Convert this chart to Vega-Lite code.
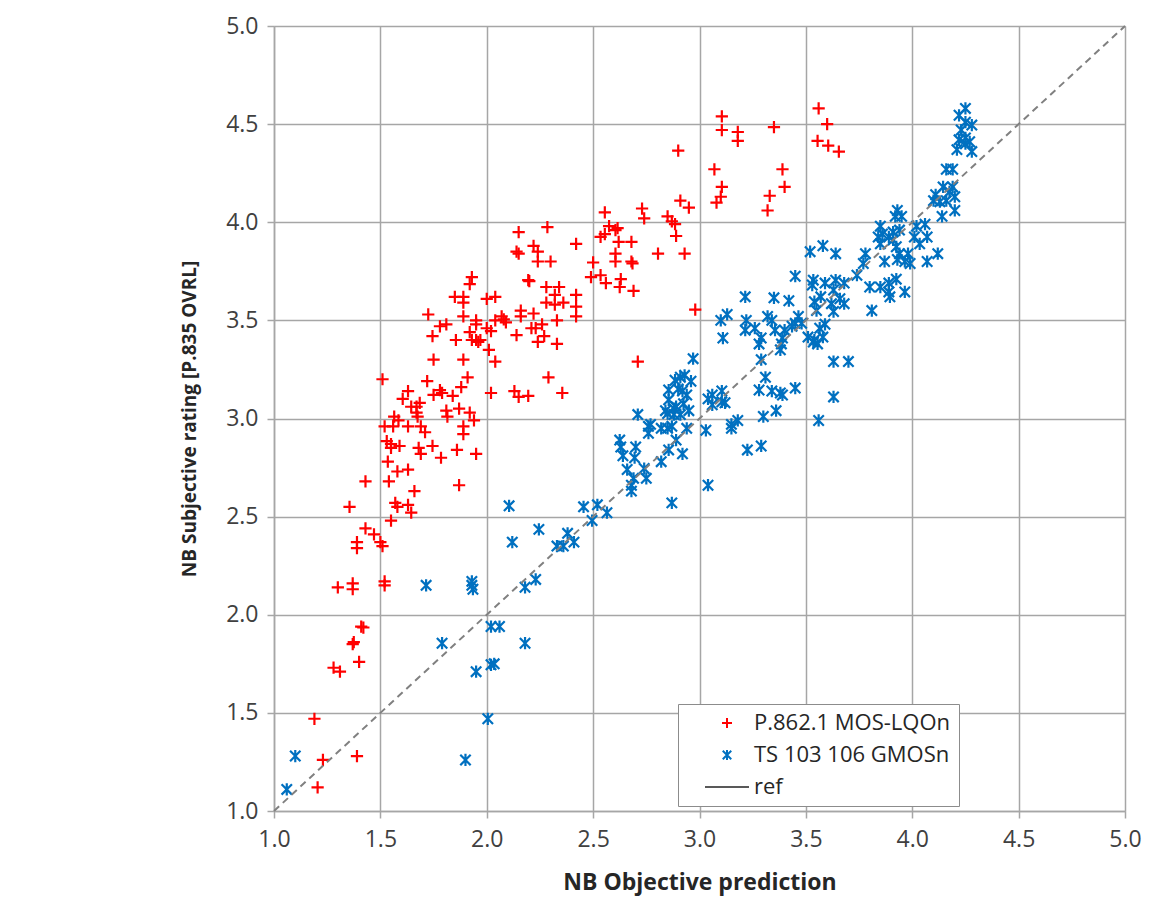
{
  "$schema": "https://vega.github.io/schema/vega-lite/v6.json",
  "width": 851,
  "height": 785,
  "autosize": "none",
  "padding": {"left": 274, "top": 26, "right": 27, "bottom": 102},
  "background": "white",
  "config": {"view": {"stroke": null}, "font": "Open Sans"},
  "datasets": {
    "ref": [{"x": 1, "y": 1}, {"x": 5, "y": 5}],
    "pts": [
      {"s":"P.862.1 MOS-LQOn","x":1.19,"y":1.47},{"s":"P.862.1 MOS-LQOn","x":1.205,"y":1.12},{"s":"P.862.1 MOS-LQOn","x":1.23,"y":1.26},{"s":"P.862.1 MOS-LQOn","x":1.39,"y":1.28},
      {"s":"P.862.1 MOS-LQOn","x":1.28,"y":1.73},{"s":"P.862.1 MOS-LQOn","x":1.31,"y":1.71},{"s":"P.862.1 MOS-LQOn","x":1.40,"y":1.76},{"s":"P.862.1 MOS-LQOn","x":1.37,"y":1.85},
      {"s":"P.862.1 MOS-LQOn","x":1.375,"y":1.86},{"s":"P.862.1 MOS-LQOn","x":1.41,"y":1.94},{"s":"P.862.1 MOS-LQOn","x":1.42,"y":1.935},{"s":"P.862.1 MOS-LQOn","x":1.30,"y":2.14},
      {"s":"P.862.1 MOS-LQOn","x":1.37,"y":2.16},{"s":"P.862.1 MOS-LQOn","x":1.37,"y":2.13},{"s":"P.862.1 MOS-LQOn","x":1.52,"y":2.17},{"s":"P.862.1 MOS-LQOn","x":1.52,"y":2.15},
      {"s":"P.862.1 MOS-LQOn","x":1.39,"y":2.37},{"s":"P.862.1 MOS-LQOn","x":1.39,"y":2.34},{"s":"P.862.1 MOS-LQOn","x":1.43,"y":2.44},{"s":"P.862.1 MOS-LQOn","x":1.47,"y":2.41},
      {"s":"P.862.1 MOS-LQOn","x":1.50,"y":2.37},{"s":"P.862.1 MOS-LQOn","x":1.51,"y":2.35},{"s":"P.862.1 MOS-LQOn","x":1.355,"y":2.55},{"s":"P.862.1 MOS-LQOn","x":1.55,"y":2.48},
      {"s":"P.862.1 MOS-LQOn","x":1.57,"y":2.57},{"s":"P.862.1 MOS-LQOn","x":1.58,"y":2.55},{"s":"P.862.1 MOS-LQOn","x":1.63,"y":2.56},{"s":"P.862.1 MOS-LQOn","x":1.645,"y":2.52},
      {"s":"P.862.1 MOS-LQOn","x":1.66,"y":2.63},{"s":"P.862.1 MOS-LQOn","x":1.43,"y":2.68},{"s":"P.862.1 MOS-LQOn","x":1.54,"y":2.68},{"s":"P.862.1 MOS-LQOn","x":1.87,"y":2.66},
      {"s":"P.862.1 MOS-LQOn","x":1.535,"y":2.78},{"s":"P.862.1 MOS-LQOn","x":1.58,"y":2.73},{"s":"P.862.1 MOS-LQOn","x":1.63,"y":2.74},{"s":"P.862.1 MOS-LQOn","x":1.53,"y":2.885},
      {"s":"P.862.1 MOS-LQOn","x":1.55,"y":2.87},{"s":"P.862.1 MOS-LQOn","x":1.55,"y":2.85},{"s":"P.862.1 MOS-LQOn","x":1.59,"y":2.86},{"s":"P.862.1 MOS-LQOn","x":1.68,"y":2.85},
      {"s":"P.862.1 MOS-LQOn","x":1.69,"y":2.82},{"s":"P.862.1 MOS-LQOn","x":1.745,"y":2.86},{"s":"P.862.1 MOS-LQOn","x":1.785,"y":2.80},{"s":"P.862.1 MOS-LQOn","x":1.86,"y":2.84},
      {"s":"P.862.1 MOS-LQOn","x":1.95,"y":2.82},{"s":"P.862.1 MOS-LQOn","x":1.52,"y":2.96},{"s":"P.862.1 MOS-LQOn","x":1.56,"y":2.96},{"s":"P.862.1 MOS-LQOn","x":1.63,"y":2.96},
      {"s":"P.862.1 MOS-LQOn","x":1.69,"y":2.96},{"s":"P.862.1 MOS-LQOn","x":1.71,"y":2.93},{"s":"P.862.1 MOS-LQOn","x":1.89,"y":2.96},{"s":"P.862.1 MOS-LQOn","x":1.89,"y":2.92},
      {"s":"P.862.1 MOS-LQOn","x":1.565,"y":3.01},{"s":"P.862.1 MOS-LQOn","x":1.585,"y":2.99},{"s":"P.862.1 MOS-LQOn","x":1.81,"y":3.04},{"s":"P.862.1 MOS-LQOn","x":1.815,"y":3.01},
      {"s":"P.862.1 MOS-LQOn","x":1.87,"y":3.05},{"s":"P.862.1 MOS-LQOn","x":1.92,"y":3.03},{"s":"P.862.1 MOS-LQOn","x":1.94,"y":2.99},{"s":"P.862.1 MOS-LQOn","x":1.63,"y":3.14},
      {"s":"P.862.1 MOS-LQOn","x":1.605,"y":3.10},{"s":"P.862.1 MOS-LQOn","x":1.645,"y":3.06},{"s":"P.862.1 MOS-LQOn","x":1.67,"y":3.06},{"s":"P.862.1 MOS-LQOn","x":1.685,"y":3.08},
      {"s":"P.862.1 MOS-LQOn","x":1.67,"y":3.03},{"s":"P.862.1 MOS-LQOn","x":1.675,"y":3.01},{"s":"P.862.1 MOS-LQOn","x":1.75,"y":3.12},{"s":"P.862.1 MOS-LQOn","x":1.78,"y":3.145},
      {"s":"P.862.1 MOS-LQOn","x":1.79,"y":3.13},{"s":"P.862.1 MOS-LQOn","x":1.84,"y":3.115},{"s":"P.862.1 MOS-LQOn","x":1.88,"y":3.16},{"s":"P.862.1 MOS-LQOn","x":2.02,"y":3.13},
      {"s":"P.862.1 MOS-LQOn","x":2.13,"y":3.14},{"s":"P.862.1 MOS-LQOn","x":2.15,"y":3.11},{"s":"P.862.1 MOS-LQOn","x":2.195,"y":3.115},{"s":"P.862.1 MOS-LQOn","x":2.355,"y":3.13},
      {"s":"P.862.1 MOS-LQOn","x":1.51,"y":3.20},{"s":"P.862.1 MOS-LQOn","x":1.72,"y":3.19},{"s":"P.862.1 MOS-LQOn","x":1.91,"y":3.21},{"s":"P.862.1 MOS-LQOn","x":2.29,"y":3.21},
      {"s":"P.862.1 MOS-LQOn","x":1.75,"y":3.30},{"s":"P.862.1 MOS-LQOn","x":1.89,"y":3.30},{"s":"P.862.1 MOS-LQOn","x":2.04,"y":3.29},{"s":"P.862.1 MOS-LQOn","x":2.71,"y":3.29},
      {"s":"P.862.1 MOS-LQOn","x":1.855,"y":3.40},{"s":"P.862.1 MOS-LQOn","x":1.92,"y":3.44},{"s":"P.862.1 MOS-LQOn","x":1.93,"y":3.40},{"s":"P.862.1 MOS-LQOn","x":1.95,"y":3.40},
      {"s":"P.862.1 MOS-LQOn","x":1.96,"y":3.39},{"s":"P.862.1 MOS-LQOn","x":1.97,"y":3.40},{"s":"P.862.1 MOS-LQOn","x":2.00,"y":3.46},{"s":"P.862.1 MOS-LQOn","x":2.02,"y":3.445},
      {"s":"P.862.1 MOS-LQOn","x":2.01,"y":3.35},{"s":"P.862.1 MOS-LQOn","x":2.14,"y":3.425},{"s":"P.862.1 MOS-LQOn","x":2.24,"y":3.39},{"s":"P.862.1 MOS-LQOn","x":2.27,"y":3.42},
      {"s":"P.862.1 MOS-LQOn","x":2.33,"y":3.38},{"s":"P.862.1 MOS-LQOn","x":1.78,"y":3.47},{"s":"P.862.1 MOS-LQOn","x":1.81,"y":3.48},{"s":"P.862.1 MOS-LQOn","x":1.745,"y":3.42},
      {"s":"P.862.1 MOS-LQOn","x":1.725,"y":3.53},{"s":"P.862.1 MOS-LQOn","x":1.89,"y":3.52},{"s":"P.862.1 MOS-LQOn","x":1.95,"y":3.50},{"s":"P.862.1 MOS-LQOn","x":1.95,"y":3.48},
      {"s":"P.862.1 MOS-LQOn","x":2.04,"y":3.50},{"s":"P.862.1 MOS-LQOn","x":2.07,"y":3.52},{"s":"P.862.1 MOS-LQOn","x":2.08,"y":3.505},{"s":"P.862.1 MOS-LQOn","x":2.09,"y":3.49},
      {"s":"P.862.1 MOS-LQOn","x":2.16,"y":3.55},{"s":"P.862.1 MOS-LQOn","x":2.16,"y":3.52},{"s":"P.862.1 MOS-LQOn","x":2.22,"y":3.535},{"s":"P.862.1 MOS-LQOn","x":2.33,"y":3.50},
      {"s":"P.862.1 MOS-LQOn","x":2.26,"y":3.48},{"s":"P.862.1 MOS-LQOn","x":2.23,"y":3.46},{"s":"P.862.1 MOS-LQOn","x":2.21,"y":3.46},{"s":"P.862.1 MOS-LQOn","x":2.98,"y":3.555},
      {"s":"P.862.1 MOS-LQOn","x":1.92,"y":3.685},{"s":"P.862.1 MOS-LQOn","x":1.93,"y":3.72},{"s":"P.862.1 MOS-LQOn","x":1.85,"y":3.62},{"s":"P.862.1 MOS-LQOn","x":1.89,"y":3.62},
      {"s":"P.862.1 MOS-LQOn","x":1.89,"y":3.59},{"s":"P.862.1 MOS-LQOn","x":2.00,"y":3.61},{"s":"P.862.1 MOS-LQOn","x":2.04,"y":3.62},{"s":"P.862.1 MOS-LQOn","x":2.20,"y":3.70},
      {"s":"P.862.1 MOS-LQOn","x":2.28,"y":3.67},{"s":"P.862.1 MOS-LQOn","x":2.34,"y":3.67},{"s":"P.862.1 MOS-LQOn","x":2.32,"y":3.63},{"s":"P.862.1 MOS-LQOn","x":2.28,"y":3.59},
      {"s":"P.862.1 MOS-LQOn","x":2.32,"y":3.58},{"s":"P.862.1 MOS-LQOn","x":2.36,"y":3.59},{"s":"P.862.1 MOS-LQOn","x":2.42,"y":3.63},{"s":"P.862.1 MOS-LQOn","x":2.42,"y":3.57},
      {"s":"P.862.1 MOS-LQOn","x":2.42,"y":3.52},{"s":"P.862.1 MOS-LQOn","x":2.195,"y":3.705},{"s":"P.862.1 MOS-LQOn","x":2.49,"y":3.72},{"s":"P.862.1 MOS-LQOn","x":2.535,"y":3.73},
      {"s":"P.862.1 MOS-LQOn","x":2.56,"y":3.69},{"s":"P.862.1 MOS-LQOn","x":2.63,"y":3.71},{"s":"P.862.1 MOS-LQOn","x":2.625,"y":3.67},{"s":"P.862.1 MOS-LQOn","x":2.69,"y":3.65},
      {"s":"P.862.1 MOS-LQOn","x":2.50,"y":3.795},{"s":"P.862.1 MOS-LQOn","x":2.605,"y":3.84},{"s":"P.862.1 MOS-LQOn","x":2.605,"y":3.80},{"s":"P.862.1 MOS-LQOn","x":2.68,"y":3.80},
      {"s":"P.862.1 MOS-LQOn","x":2.685,"y":3.79},{"s":"P.862.1 MOS-LQOn","x":2.62,"y":3.90},{"s":"P.862.1 MOS-LQOn","x":2.68,"y":3.90},{"s":"P.862.1 MOS-LQOn","x":2.575,"y":3.98},
      {"s":"P.862.1 MOS-LQOn","x":2.615,"y":3.97},{"s":"P.862.1 MOS-LQOn","x":2.605,"y":3.96},{"s":"P.862.1 MOS-LQOn","x":2.535,"y":3.925},{"s":"P.862.1 MOS-LQOn","x":2.555,"y":3.94},
      {"s":"P.862.1 MOS-LQOn","x":2.555,"y":4.05},{"s":"P.862.1 MOS-LQOn","x":2.73,"y":4.07},{"s":"P.862.1 MOS-LQOn","x":2.74,"y":4.02},{"s":"P.862.1 MOS-LQOn","x":2.85,"y":4.03},
      {"s":"P.862.1 MOS-LQOn","x":2.87,"y":4.005},{"s":"P.862.1 MOS-LQOn","x":2.885,"y":3.99},{"s":"P.862.1 MOS-LQOn","x":2.89,"y":3.93},{"s":"P.862.1 MOS-LQOn","x":2.93,"y":3.84},
      {"s":"P.862.1 MOS-LQOn","x":2.805,"y":3.84},{"s":"P.862.1 MOS-LQOn","x":2.285,"y":3.975},{"s":"P.862.1 MOS-LQOn","x":2.15,"y":3.95},{"s":"P.862.1 MOS-LQOn","x":2.42,"y":3.89},
      {"s":"P.862.1 MOS-LQOn","x":2.22,"y":3.88},{"s":"P.862.1 MOS-LQOn","x":2.24,"y":3.85},{"s":"P.862.1 MOS-LQOn","x":2.14,"y":3.85},{"s":"P.862.1 MOS-LQOn","x":2.15,"y":3.84},
      {"s":"P.862.1 MOS-LQOn","x":2.24,"y":3.80},{"s":"P.862.1 MOS-LQOn","x":2.30,"y":3.80},{"s":"P.862.1 MOS-LQOn","x":2.91,"y":4.11},{"s":"P.862.1 MOS-LQOn","x":2.95,"y":4.075},
      {"s":"P.862.1 MOS-LQOn","x":2.90,"y":4.365},{"s":"P.862.1 MOS-LQOn","x":3.07,"y":4.27},{"s":"P.862.1 MOS-LQOn","x":3.105,"y":4.18},{"s":"P.862.1 MOS-LQOn","x":3.10,"y":4.13},
      {"s":"P.862.1 MOS-LQOn","x":3.08,"y":4.10},{"s":"P.862.1 MOS-LQOn","x":3.105,"y":4.54},{"s":"P.862.1 MOS-LQOn","x":3.105,"y":4.47},{"s":"P.862.1 MOS-LQOn","x":3.18,"y":4.46},
      {"s":"P.862.1 MOS-LQOn","x":3.18,"y":4.415},{"s":"P.862.1 MOS-LQOn","x":3.35,"y":4.485},{"s":"P.862.1 MOS-LQOn","x":3.39,"y":4.27},{"s":"P.862.1 MOS-LQOn","x":3.40,"y":4.18},
      {"s":"P.862.1 MOS-LQOn","x":3.33,"y":4.135},{"s":"P.862.1 MOS-LQOn","x":3.32,"y":4.06},{"s":"P.862.1 MOS-LQOn","x":3.56,"y":4.58},{"s":"P.862.1 MOS-LQOn","x":3.60,"y":4.50},
      {"s":"P.862.1 MOS-LQOn","x":3.555,"y":4.415},{"s":"P.862.1 MOS-LQOn","x":3.605,"y":4.39},{"s":"P.862.1 MOS-LQOn","x":3.655,"y":4.36},

      {"s":"TS 103 106 GMOSn","x":1.06,"y":1.11},{"s":"TS 103 106 GMOSn","x":1.10,"y":1.28},{"s":"TS 103 106 GMOSn","x":1.90,"y":1.26},{"s":"TS 103 106 GMOSn","x":2.005,"y":1.47},
      {"s":"TS 103 106 GMOSn","x":1.95,"y":1.71},{"s":"TS 103 106 GMOSn","x":2.02,"y":1.745},{"s":"TS 103 106 GMOSn","x":2.035,"y":1.75},{"s":"TS 103 106 GMOSn","x":1.79,"y":1.855},
      {"s":"TS 103 106 GMOSn","x":2.18,"y":1.855},{"s":"TS 103 106 GMOSn","x":2.02,"y":1.94},{"s":"TS 103 106 GMOSn","x":2.06,"y":1.94},{"s":"TS 103 106 GMOSn","x":1.715,"y":2.15},
      {"s":"TS 103 106 GMOSn","x":1.93,"y":2.17},{"s":"TS 103 106 GMOSn","x":1.93,"y":2.15},{"s":"TS 103 106 GMOSn","x":1.935,"y":2.13},{"s":"TS 103 106 GMOSn","x":2.18,"y":2.14},
      {"s":"TS 103 106 GMOSn","x":2.23,"y":2.18},{"s":"TS 103 106 GMOSn","x":2.12,"y":2.37},{"s":"TS 103 106 GMOSn","x":2.105,"y":2.555},{"s":"TS 103 106 GMOSn","x":2.245,"y":2.435},
      {"s":"TS 103 106 GMOSn","x":2.33,"y":2.35},{"s":"TS 103 106 GMOSn","x":2.36,"y":2.35},{"s":"TS 103 106 GMOSn","x":2.38,"y":2.415},{"s":"TS 103 106 GMOSn","x":2.41,"y":2.37},
      {"s":"TS 103 106 GMOSn","x":2.455,"y":2.55},{"s":"TS 103 106 GMOSn","x":2.52,"y":2.56},{"s":"TS 103 106 GMOSn","x":2.565,"y":2.52},{"s":"TS 103 106 GMOSn","x":2.495,"y":2.48},
      {"s":"TS 103 106 GMOSn","x":2.66,"y":2.74},{"s":"TS 103 106 GMOSn","x":2.74,"y":2.745},{"s":"TS 103 106 GMOSn","x":2.69,"y":2.695},{"s":"TS 103 106 GMOSn","x":2.75,"y":2.695},
      {"s":"TS 103 106 GMOSn","x":2.68,"y":2.66},{"s":"TS 103 106 GMOSn","x":2.68,"y":2.63},{"s":"TS 103 106 GMOSn","x":2.87,"y":2.57},{"s":"TS 103 106 GMOSn","x":3.04,"y":2.66},
      {"s":"TS 103 106 GMOSn","x":2.625,"y":2.89},{"s":"TS 103 106 GMOSn","x":2.63,"y":2.855},{"s":"TS 103 106 GMOSn","x":2.70,"y":2.855},{"s":"TS 103 106 GMOSn","x":2.89,"y":2.89},
      {"s":"TS 103 106 GMOSn","x":2.855,"y":2.84},{"s":"TS 103 106 GMOSn","x":2.64,"y":2.81},{"s":"TS 103 106 GMOSn","x":2.695,"y":2.80},{"s":"TS 103 106 GMOSn","x":2.92,"y":2.82},
      {"s":"TS 103 106 GMOSn","x":2.82,"y":2.78},{"s":"TS 103 106 GMOSn","x":2.76,"y":2.96},{"s":"TS 103 106 GMOSn","x":2.76,"y":2.925},{"s":"TS 103 106 GMOSn","x":2.82,"y":2.95},
      {"s":"TS 103 106 GMOSn","x":2.85,"y":2.95},{"s":"TS 103 106 GMOSn","x":2.87,"y":2.96},{"s":"TS 103 106 GMOSn","x":2.94,"y":2.95},{"s":"TS 103 106 GMOSn","x":2.71,"y":3.02},
      {"s":"TS 103 106 GMOSn","x":2.84,"y":3.04},{"s":"TS 103 106 GMOSn","x":2.89,"y":3.06},{"s":"TS 103 106 GMOSn","x":2.95,"y":3.04},{"s":"TS 103 106 GMOSn","x":2.88,"y":3.02},
      {"s":"TS 103 106 GMOSn","x":2.91,"y":3.02},{"s":"TS 103 106 GMOSn","x":3.03,"y":2.94},{"s":"TS 103 106 GMOSn","x":3.18,"y":2.99},{"s":"TS 103 106 GMOSn","x":3.15,"y":2.95},
      {"s":"TS 103 106 GMOSn","x":3.56,"y":2.99},{"s":"TS 103 106 GMOSn","x":3.225,"y":2.84},{"s":"TS 103 106 GMOSn","x":3.29,"y":2.86},{"s":"TS 103 106 GMOSn","x":3.36,"y":3.04},
      {"s":"TS 103 106 GMOSn","x":3.30,"y":3.01},{"s":"TS 103 106 GMOSn","x":2.91,"y":3.21},{"s":"TS 103 106 GMOSn","x":2.93,"y":3.22},{"s":"TS 103 106 GMOSn","x":2.96,"y":3.19},
      {"s":"TS 103 106 GMOSn","x":2.855,"y":3.145},{"s":"TS 103 106 GMOSn","x":2.92,"y":3.14},{"s":"TS 103 106 GMOSn","x":2.94,"y":3.12},{"s":"TS 103 106 GMOSn","x":2.90,"y":3.15},
      {"s":"TS 103 106 GMOSn","x":2.97,"y":3.305},{"s":"TS 103 106 GMOSn","x":3.04,"y":3.10},{"s":"TS 103 106 GMOSn","x":3.06,"y":3.12},{"s":"TS 103 106 GMOSn","x":3.105,"y":3.14},
      {"s":"TS 103 106 GMOSn","x":3.105,"y":3.085},{"s":"TS 103 106 GMOSn","x":3.06,"y":3.07},{"s":"TS 103 106 GMOSn","x":3.12,"y":3.08},{"s":"TS 103 106 GMOSn","x":3.34,"y":3.14},
      {"s":"TS 103 106 GMOSn","x":3.38,"y":3.13},{"s":"TS 103 106 GMOSn","x":3.45,"y":3.155},{"s":"TS 103 106 GMOSn","x":3.31,"y":3.21},{"s":"TS 103 106 GMOSn","x":3.29,"y":3.30},
      {"s":"TS 103 106 GMOSn","x":3.38,"y":3.35},{"s":"TS 103 106 GMOSn","x":3.63,"y":3.29},{"s":"TS 103 106 GMOSn","x":3.70,"y":3.29},{"s":"TS 103 106 GMOSn","x":3.63,"y":3.11},
      {"s":"TS 103 106 GMOSn","x":3.28,"y":3.145},{"s":"TS 103 106 GMOSn","x":3.39,"y":3.12},{"s":"TS 103 106 GMOSn","x":3.215,"y":3.62},{"s":"TS 103 106 GMOSn","x":3.35,"y":3.615},
      {"s":"TS 103 106 GMOSn","x":3.42,"y":3.60},{"s":"TS 103 106 GMOSn","x":3.10,"y":3.50},{"s":"TS 103 106 GMOSn","x":3.13,"y":3.53},{"s":"TS 103 106 GMOSn","x":3.11,"y":3.41},
      {"s":"TS 103 106 GMOSn","x":3.22,"y":3.50},{"s":"TS 103 106 GMOSn","x":3.215,"y":3.45},{"s":"TS 103 106 GMOSn","x":3.26,"y":3.46},{"s":"TS 103 106 GMOSn","x":3.29,"y":3.41},
      {"s":"TS 103 106 GMOSn","x":3.28,"y":3.38},{"s":"TS 103 106 GMOSn","x":3.32,"y":3.52},{"s":"TS 103 106 GMOSn","x":3.34,"y":3.50},{"s":"TS 103 106 GMOSn","x":3.355,"y":3.45},
      {"s":"TS 103 106 GMOSn","x":3.39,"y":3.41},{"s":"TS 103 106 GMOSn","x":3.40,"y":3.45},{"s":"TS 103 106 GMOSn","x":3.385,"y":3.38},{"s":"TS 103 106 GMOSn","x":3.465,"y":3.52},
      {"s":"TS 103 106 GMOSn","x":3.45,"y":3.485},{"s":"TS 103 106 GMOSn","x":3.48,"y":3.485},{"s":"TS 103 106 GMOSn","x":3.435,"y":3.47},{"s":"TS 103 106 GMOSn","x":3.51,"y":3.415},
      {"s":"TS 103 106 GMOSn","x":3.535,"y":3.39},{"s":"TS 103 106 GMOSn","x":3.45,"y":3.725},{"s":"TS 103 106 GMOSn","x":3.52,"y":3.85},{"s":"TS 103 106 GMOSn","x":3.58,"y":3.88},
      {"s":"TS 103 106 GMOSn","x":3.64,"y":3.84},{"s":"TS 103 106 GMOSn","x":3.535,"y":3.705},{"s":"TS 103 106 GMOSn","x":3.53,"y":3.68},{"s":"TS 103 106 GMOSn","x":3.59,"y":3.69},
      {"s":"TS 103 106 GMOSn","x":3.64,"y":3.705},{"s":"TS 103 106 GMOSn","x":3.63,"y":3.655},{"s":"TS 103 106 GMOSn","x":3.68,"y":3.69},{"s":"TS 103 106 GMOSn","x":3.66,"y":3.61},
      {"s":"TS 103 106 GMOSn","x":3.62,"y":3.585},{"s":"TS 103 106 GMOSn","x":3.57,"y":3.62},{"s":"TS 103 106 GMOSn","x":3.68,"y":3.585},{"s":"TS 103 106 GMOSn","x":3.63,"y":3.545},
      {"s":"TS 103 106 GMOSn","x":3.54,"y":3.595},{"s":"TS 103 106 GMOSn","x":3.55,"y":3.55},{"s":"TS 103 106 GMOSn","x":3.59,"y":3.48},{"s":"TS 103 106 GMOSn","x":3.565,"y":3.46},
      {"s":"TS 103 106 GMOSn","x":3.58,"y":3.415},{"s":"TS 103 106 GMOSn","x":3.555,"y":3.38},{"s":"TS 103 106 GMOSn","x":3.54,"y":3.40},{"s":"TS 103 106 GMOSn","x":3.74,"y":3.73},
      {"s":"TS 103 106 GMOSn","x":3.80,"y":3.67},{"s":"TS 103 106 GMOSn","x":3.85,"y":3.67},{"s":"TS 103 106 GMOSn","x":3.89,"y":3.69},{"s":"TS 103 106 GMOSn","x":3.89,"y":3.645},
      {"s":"TS 103 106 GMOSn","x":3.895,"y":3.62},{"s":"TS 103 106 GMOSn","x":3.925,"y":3.71},{"s":"TS 103 106 GMOSn","x":3.965,"y":3.645},{"s":"TS 103 106 GMOSn","x":3.81,"y":3.55},
      {"s":"TS 103 106 GMOSn","x":3.78,"y":3.84},{"s":"TS 103 106 GMOSn","x":3.77,"y":3.79},{"s":"TS 103 106 GMOSn","x":3.87,"y":3.80},{"s":"TS 103 106 GMOSn","x":3.94,"y":3.84},
      {"s":"TS 103 106 GMOSn","x":3.93,"y":3.81},{"s":"TS 103 106 GMOSn","x":3.98,"y":3.84},{"s":"TS 103 106 GMOSn","x":3.965,"y":3.80},{"s":"TS 103 106 GMOSn","x":3.99,"y":3.79},
      {"s":"TS 103 106 GMOSn","x":4.07,"y":3.80},{"s":"TS 103 106 GMOSn","x":4.12,"y":3.84},{"s":"TS 103 106 GMOSn","x":3.91,"y":3.91},{"s":"TS 103 106 GMOSn","x":3.925,"y":3.875},
      {"s":"TS 103 106 GMOSn","x":3.85,"y":3.98},{"s":"TS 103 106 GMOSn","x":3.84,"y":3.925},{"s":"TS 103 106 GMOSn","x":3.86,"y":3.94},{"s":"TS 103 106 GMOSn","x":3.89,"y":3.925},
      {"s":"TS 103 106 GMOSn","x":3.85,"y":3.89},{"s":"TS 103 106 GMOSn","x":3.91,"y":3.95},{"s":"TS 103 106 GMOSn","x":3.94,"y":3.96},{"s":"TS 103 106 GMOSn","x":4.02,"y":3.98},
      {"s":"TS 103 106 GMOSn","x":4.06,"y":3.99},{"s":"TS 103 106 GMOSn","x":4.01,"y":3.925},{"s":"TS 103 106 GMOSn","x":4.07,"y":3.925},{"s":"TS 103 106 GMOSn","x":4.035,"y":3.89},
      {"s":"TS 103 106 GMOSn","x":3.93,"y":4.06},{"s":"TS 103 106 GMOSn","x":3.92,"y":4.03},{"s":"TS 103 106 GMOSn","x":3.95,"y":4.03},{"s":"TS 103 106 GMOSn","x":4.20,"y":4.06},
      {"s":"TS 103 106 GMOSn","x":4.14,"y":4.03},{"s":"TS 103 106 GMOSn","x":4.11,"y":4.14},{"s":"TS 103 106 GMOSn","x":4.10,"y":4.11},{"s":"TS 103 106 GMOSn","x":4.13,"y":4.105},
      {"s":"TS 103 106 GMOSn","x":4.16,"y":4.11},{"s":"TS 103 106 GMOSn","x":4.145,"y":4.18},{"s":"TS 103 106 GMOSn","x":4.19,"y":4.18},{"s":"TS 103 106 GMOSn","x":4.175,"y":4.155},
      {"s":"TS 103 106 GMOSn","x":4.20,"y":4.13},{"s":"TS 103 106 GMOSn","x":4.16,"y":4.27},{"s":"TS 103 106 GMOSn","x":4.19,"y":4.27},{"s":"TS 103 106 GMOSn","x":4.25,"y":4.58},
      {"s":"TS 103 106 GMOSn","x":4.22,"y":4.545},{"s":"TS 103 106 GMOSn","x":4.25,"y":4.51},{"s":"TS 103 106 GMOSn","x":4.28,"y":4.495},{"s":"TS 103 106 GMOSn","x":4.23,"y":4.47},
      {"s":"TS 103 106 GMOSn","x":4.25,"y":4.43},{"s":"TS 103 106 GMOSn","x":4.22,"y":4.42},{"s":"TS 103 106 GMOSn","x":4.27,"y":4.41},{"s":"TS 103 106 GMOSn","x":4.21,"y":4.37},
      {"s":"TS 103 106 GMOSn","x":4.28,"y":4.36},{"s":"TS 103 106 GMOSn","x":4.25,"y":4.40},{"s":"TS 103 106 GMOSn","x":2.885,"y":3.195},{"s":"TS 103 106 GMOSn","x":2.855,"y":3.095},
      {"s":"TS 103 106 GMOSn","x":2.925,"y":3.075},{"s":"TS 103 106 GMOSn","x":2.88,"y":3.05},{"s":"TS 103 106 GMOSn","x":2.85,"y":3.025},{"s":"TS 103 106 GMOSn","x":2.77,"y":2.97},
      {"s":"TS 103 106 GMOSn","x":3.15,"y":2.97}
    ]
  },
  "encoding": {
    "x": {
      "field": "x", "type": "quantitative",
      "scale": {"domain": [1, 5], "nice": false, "zero": false},
      "axis": {
        "title": "NB Objective prediction", "values": [1, 1.5, 2, 2.5, 3, 3.5, 4, 4.5, 5], "format": ".1f",
        "labelFontSize": 23, "labelColor": "#404040", "labelPadding": 10, "labelFlush": false,
        "titleFontSize": 23, "titleFontWeight": "bold", "titleColor": "#262626", "titlePadding": 20,
        "grid": true, "gridColor": "#a6a6a6", "gridWidth": 1.5,
        "domainColor": "#a6a6a6", "domainWidth": 1.5, "tickColor": "#a6a6a6", "tickWidth": 1.5, "tickSize": 7
      }
    },
    "y": {
      "field": "y", "type": "quantitative",
      "scale": {"domain": [1, 5], "nice": false, "zero": false},
      "axis": {
        "title": "NB Subjective rating [P.835 OVRL]", "values": [1, 1.5, 2, 2.5, 3, 3.5, 4, 4.5, 5], "format": ".1f",
        "labelFontSize": 23, "labelColor": "#404040", "labelPadding": 9, "labelFlush": false,
        "titleFontSize": 19, "titleFontWeight": "bold", "titleColor": "#262626", "titlePadding": 26,
        "grid": true, "gridColor": "#a6a6a6", "gridWidth": 1.5,
        "domainColor": "#a6a6a6", "domainWidth": 1.5, "tickColor": "#a6a6a6", "tickWidth": 1.5, "tickSize": 7
      }
    }
  },
  "layer": [
    {
      "data": {"name": "pts"},
      "mark": {"type": "point", "filled": false, "strokeWidth": 2.2, "size": 150, "opacity": 1},
      "encoding": {
        "color": {
          "field": "s", "type": "nominal",
          "scale": {"domain": ["P.862.1 MOS-LQOn", "TS 103 106 GMOSn", "ref"], "range": ["#ff0000", "#0070c0", "#595959"]},
          "legend": {
            "orient": "none", "legendX": 404, "legendY": 678, "title": null,
            "fillColor": "white", "strokeColor": "#8c8c8c", "padding": 8,
            "labelFontSize": 22, "labelColor": "#262626", "labelOffset": 16, "labelLimit": 0,
            "symbolStrokeWidth": 2, "symbolSize": 100, "symbolOffset": 30, "rowPadding": 10
          }
        },
        "shape": {
          "field": "s", "type": "nominal",
          "scale": {"domain": ["P.862.1 MOS-LQOn", "TS 103 106 GMOSn", "ref"], "range": ["M-1,0L1,0M0,-1L0,1", "M-0.85,-0.85L0.85,0.85M-0.85,0.85L0.85,-0.85M0,-1L0,1", "M-4.4,0L4.4,0"]}
        }
      }
    },
    {
      "data": {"name": "ref"},
      "mark": {"type": "line", "color": "#808080", "strokeWidth": 2, "strokeDash": [7, 5]},
      "encoding": {}
    }
  ]
}
